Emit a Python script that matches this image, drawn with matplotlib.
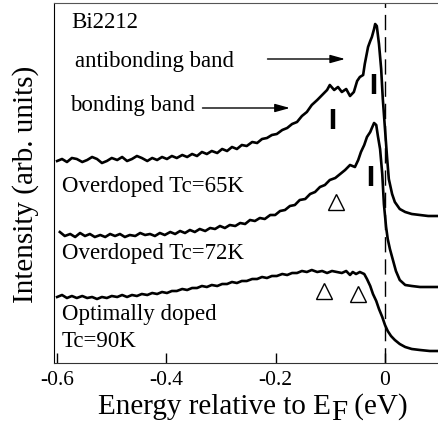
import numpy as np
import matplotlib
matplotlib.use("Agg")
import matplotlib.pyplot as plt

plt.rcParams['font.family'] = ['Liberation Serif', 'DejaVu Serif']

# Overdoped Tc=65K (top spectrum)
e_65 = [-0.600, -0.591, -0.582, -0.573, -0.564, -0.554, -0.545, -0.536, -0.527, -0.518,
        -0.509, -0.500, -0.490, -0.481, -0.472, -0.463, -0.454, -0.445, -0.435, -0.426,
        -0.417, -0.408, -0.399, -0.390, -0.381, -0.371, -0.362, -0.353, -0.344, -0.335,
        -0.326, -0.317, -0.307, -0.298, -0.289, -0.280, -0.271, -0.262, -0.253, -0.243,
        -0.234, -0.225, -0.216, -0.207, -0.198, -0.188, -0.179, -0.170, -0.161, -0.152,
        -0.143, -0.134, -0.124, -0.115, -0.106, -0.101, -0.093, -0.086, -0.079, -0.071,
        -0.064, -0.057, -0.051, -0.046, -0.040, -0.037, -0.031, -0.027, -0.024, -0.020,
        -0.018, -0.015, -0.011, -0.007, -0.004, 0.000, 0.004, 0.007, 0.013, 0.018,
        0.027, 0.037, 0.049, 0.064, 0.079, 0.097]
i_65 = [2.02, 2.04, 2.01, 2.05, 2.04, 2.01, 2.03, 2.06, 2.04, 2.00,
        2.02, 2.05, 2.03, 2.06, 2.02, 2.04, 2.07, 2.05, 2.02, 2.05,
        2.03, 2.06, 2.04, 2.07, 2.05, 2.08, 2.06, 2.09, 2.07, 2.11,
        2.09, 2.12, 2.10, 2.14, 2.12, 2.16, 2.14, 2.18, 2.17, 2.21,
        2.20, 2.24, 2.25, 2.28, 2.29, 2.33, 2.35, 2.39, 2.41, 2.47,
        2.51, 2.58, 2.63, 2.68, 2.73, 2.78, 2.73, 2.76, 2.71, 2.74,
        2.67, 2.71, 2.82, 2.86, 2.88, 2.99, 3.16, 3.22, 3.26, 3.34,
        3.39, 3.37, 3.19, 2.94, 2.64, 2.34, 2.04, 1.84, 1.69, 1.61,
        1.54, 1.51, 1.49, 1.48, 1.47, 1.47]

# Overdoped Tc=72K (middle spectrum)
e_72 = [-0.595, -0.586, -0.576, -0.567, -0.558, -0.549, -0.540, -0.531, -0.521, -0.512,
        -0.503, -0.494, -0.485, -0.476, -0.467, -0.457, -0.448, -0.439, -0.430, -0.421,
        -0.412, -0.403, -0.393, -0.384, -0.375, -0.366, -0.357, -0.348, -0.339, -0.329,
        -0.320, -0.311, -0.302, -0.293, -0.284, -0.274, -0.265, -0.256, -0.247, -0.238,
        -0.229, -0.220, -0.210, -0.201, -0.192, -0.183, -0.174, -0.165, -0.156, -0.146,
        -0.137, -0.128, -0.119, -0.110, -0.101, -0.091, -0.082, -0.073, -0.064, -0.055,
        -0.049, -0.044, -0.038, -0.033, -0.027, -0.024, -0.020, -0.016, -0.013, -0.009,
        -0.005, -0.002, 0.002, 0.005, 0.009, 0.015, 0.020, 0.027, 0.037, 0.049,
        0.064, 0.082, 0.097]
i_72 = [1.31, 1.27, 1.29, 1.26, 1.30, 1.27, 1.29, 1.26, 1.28, 1.26,
        1.29, 1.27, 1.29, 1.26, 1.28, 1.27, 1.30, 1.28, 1.29, 1.27,
        1.30, 1.28, 1.31, 1.29, 1.32, 1.30, 1.33, 1.31, 1.34, 1.32,
        1.35, 1.34, 1.37, 1.35, 1.38, 1.37, 1.40, 1.39, 1.43, 1.42,
        1.45, 1.44, 1.48, 1.48, 1.52, 1.53, 1.57, 1.58, 1.63, 1.64,
        1.69, 1.71, 1.76, 1.78, 1.83, 1.85, 1.89, 1.93, 1.98, 1.96,
        2.03, 2.11, 2.18, 2.26, 2.31, 2.35, 2.40, 2.38, 2.27, 2.14,
        1.89, 1.59, 1.36, 1.24, 1.14, 1.02, 0.92, 0.83, 0.78, 0.77,
        0.76, 0.76, 0.76]

# Optimally doped Tc=90K (bottom spectrum)
e_90 = [-0.600, -0.591, -0.582, -0.573, -0.564, -0.554, -0.545, -0.536, -0.527, -0.518,
        -0.509, -0.500, -0.490, -0.481, -0.472, -0.463, -0.454, -0.445, -0.435, -0.426,
        -0.417, -0.408, -0.399, -0.390, -0.381, -0.371, -0.362, -0.353, -0.344, -0.335,
        -0.326, -0.317, -0.307, -0.298, -0.289, -0.280, -0.271, -0.262, -0.253, -0.243,
        -0.234, -0.225, -0.216, -0.207, -0.198, -0.188, -0.179, -0.170, -0.161, -0.152,
        -0.143, -0.134, -0.124, -0.115, -0.106, -0.097, -0.088, -0.079, -0.071, -0.064,
        -0.059, -0.053, -0.046, -0.038, -0.033, -0.027, -0.022, -0.016, -0.011, -0.005,
        0.000, 0.005, 0.011, 0.018, 0.027, 0.037, 0.049, 0.064, 0.082, 0.097]
i_90 = [0.66, 0.68, 0.65, 0.67, 0.65, 0.67, 0.65, 0.66, 0.64, 0.66,
        0.65, 0.67, 0.66, 0.68, 0.66, 0.68, 0.67, 0.69, 0.68, 0.70,
        0.69, 0.71, 0.70, 0.72, 0.72, 0.74, 0.73, 0.75, 0.75, 0.77,
        0.76, 0.78, 0.77, 0.79, 0.79, 0.81, 0.80, 0.82, 0.82, 0.84,
        0.84, 0.86, 0.85, 0.87, 0.87, 0.89, 0.88, 0.90, 0.90, 0.92,
        0.91, 0.93, 0.91, 0.92, 0.90, 0.92, 0.91, 0.90, 0.92, 0.88,
        0.91, 0.89, 0.91, 0.89, 0.84, 0.77, 0.69, 0.62, 0.54, 0.46,
        0.38, 0.32, 0.27, 0.23, 0.19, 0.16, 0.14, 0.13, 0.12, 0.12]

# peak markers: vertical bars and open triangles
bar_e = [-0.095, -0.020, -0.026]
bar_i = [2.44, 2.79, 1.87]
tri_e = [-0.090, -0.112, -0.049]
tri_i = [1.61, 0.72, 0.69]

xticks = [-0.6, -0.4, -0.2, 0.0]
xticklabels = ['-0.6', '-0.4', '-0.2', '0']


fig = plt.figure(figsize=(4.38, 4.27), dpi=100)
ax = fig.add_axes([54 / 438, 63 / 427, 384 / 438, 360 / 427])

for e, i in [(e_65, i_65), (e_72, i_72), (e_90, i_90)]:
    ax.plot(e, i, color='black', lw=1.9, solid_joinstyle='round')

ax.axvline(0, color='black', lw=1, dashes=(11, 5))
ax.vlines(bar_e, np.array(bar_i) - 0.1, np.array(bar_i) + 0.1, color='black', lw=3.2)
ax.plot(tri_e, tri_i, ls='none', marker='^', ms=11, mfc='white', mec='black', mew=1)

ax.set_xlim(-0.6057, 0.097)
ax.set_ylim(0, 3.6)
ax.set_xticks(xticks)
ax.set_xticklabels(xticklabels, fontsize=15.5)
ax.set_yticks([])
ax.tick_params(axis='x', direction='in', length=7, width=1, pad=5)
ax.spines['right'].set_visible(False)
ax.spines['top'].set_color('#555555')
ax.spines['bottom'].set_color('#333333')
ax.spines['left'].set_color('black')
ax.set_ylabel('Intensity (arb. units)', fontsize=21, labelpad=11)

fs = 16.5
ax.text(-0.574, 3.41, 'Bi2212', fontsize=fs, va='center')
ax.text(-0.567, 3.03, 'antibonding band', fontsize=fs, va='center')
ax.text(-0.576, 2.58, 'bonding band', fontsize=fs, va='center')
ax.text(-0.591, 1.77, 'Overdoped Tc=65K', fontsize=fs, va='center')
ax.text(-0.591, 1.10, 'Overdoped Tc=72K', fontsize=fs, va='center')
ax.text(-0.591, 0.49, 'Optimally doped', fontsize=fs, va='center')
ax.text(-0.591, 0.22, 'Tc=90K', fontsize=fs, va='center')

arrow = dict(arrowstyle='-|>,head_length=0.9,head_width=0.25', lw=1,
             color='black', shrinkA=0, shrinkB=0, mutation_scale=10)
ax.annotate('', xy=(-0.073, 3.04), xytext=(-0.215, 3.04), arrowprops=arrow)
ax.annotate('', xy=(-0.174, 2.55), xytext=(-0.334, 2.55), arrowprops=arrow)

# x label with a lowered, full size F
t1 = fig.text(98 / 438, 13 / 427, 'Energy relative to E', fontsize=21, va='baseline')
t2 = ax.annotate('F', xy=(1, 0), xycoords=t1, xytext=(0, -4.5),
                 textcoords='offset points', fontsize=21, va='bottom', ha='left',
                 annotation_clip=False)
ax.annotate(' (eV)', xy=(1, 0), xycoords=t2, xytext=(0, 4.5),
            textcoords='offset points', fontsize=21, va='bottom', ha='left',
            annotation_clip=False)

fig.savefig('out.png', dpi=100)
